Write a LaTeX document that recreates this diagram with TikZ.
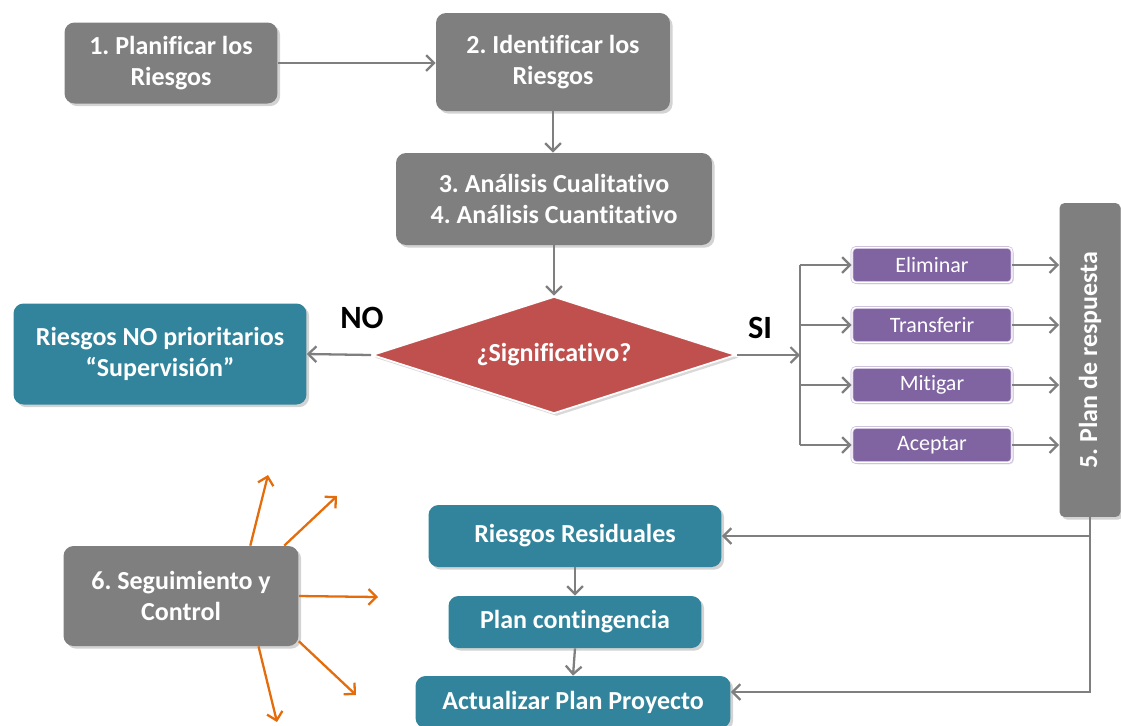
\documentclass[tikz,border=0pt]{standalone}
\usepackage{fontspec}
\usepackage{graphicx}
\setmainfont{Carlito}[Ligatures=NoCommon]
\frenchspacing
\usetikzlibrary{shapes.geometric,shadows,arrows.meta}
\definecolor{gris}{HTML}{7F7F7F}
\definecolor{verde}{HTML}{31849B}
\definecolor{morado}{HTML}{8064A2}
\definecolor{lila}{HTML}{C9BBDA}
\definecolor{rojo}{HTML}{C0504D}
\definecolor{naranja}{HTML}{E46C0A}
\tikzset{
  >={Straight Barb[length=4.5pt,width=9pt]},
  caja/.style={rounded corners=0.2cm, fill=#1, text=white, align=center,
    font=\fontsize{14.8}{17.6}\selectfont\bfseries,
    drop shadow={opacity=0.35, shadow xshift=1.5pt, shadow yshift=-1.5pt}},
  caja/.default=gris,
  opcion/.style={rounded corners=0.08cm, fill=morado, draw=lila, double=white,
    double distance=0.8pt, text=white, font=\fontsize{12.5}{14}\selectfont,
    minimum width=3.2cm, minimum height=0.7cm,
    drop shadow={opacity=0.25, shadow xshift=1pt, shadow yshift=-1pt}},
  flecha/.style={draw=gris, line width=1.3pt},
  rayo/.style={draw=naranja, line width=1.3pt, ->},
  etiqueta/.style={font=\fontsize{18.5}{20}\selectfont\bfseries},
}
\begin{document}
\begin{tikzpicture}[x=0.02cm, y=-0.02cm]
  \useasboundingbox (0,0) rectangle (1121,725);
  \node[caja, minimum width=4.26cm, minimum height=1.62cm] (N1) at (171,63) {1. Planificar los\\Riesgos};
  \node[caja, minimum width=4.68cm, minimum height=1.96cm] (N2) at (553,62) {2. Identificar los\\Riesgos};
  \node[caja, minimum width=6.32cm, minimum height=1.84cm] (N3) at (554,199) {3. Análisis Cualitativo\\4. Análisis Cuantitativo};
  \node[diamond, aspect=3.1, fill=rojo, draw=white, line width=1pt, text=white,
    minimum width=7.28cm, minimum height=2.34cm, inner sep=0pt,
    font=\fontsize{14.8}{17.6}\selectfont\bfseries,
    drop shadow={opacity=0.3, shadow xshift=1.5pt, shadow yshift=-1.5pt}] (D) at (554,355) {¿Significativo?};
  \node[caja=verde, minimum width=5.86cm, minimum height=2.02cm] (NP) at (160,354) {Riesgos NO prioritarios\\“Supervisión”};
  \node[caja, rounded corners=0.1cm, minimum width=1.22cm, minimum height=6.28cm] (N5) at (1090,360) {\rotatebox{90}{5. Plan de respuesta}};
  \foreach \i/\y/\t in {1/265/Eliminar, 2/325/Transferir, 3/385/Mitigar, 4/445/Aceptar}{
    \node[opcion] (P\i) at (932,\y) {\t};
  }
  \node[caja=verde, minimum width=5.86cm, minimum height=1.24cm] (R) at (575,536) {Riesgos Residuales};
  \node[caja=verde, minimum width=5.06cm, minimum height=1.04cm] (C) at (575,622) {Plan contingencia};
  \node[caja=verde, minimum width=6.3cm, minimum height=1.04cm] (A) at (573,702) {Actualizar Plan Proyecto};
  \node[caja, minimum width=4.7cm, minimum height=2.0cm] (N6) at (181,596) {6. Seguimiento y\\Control};
  \node[etiqueta] (NO) at (362,318) {NO};
  \node[etiqueta] (SI) at (760,328) {SI};
  \coordinate (fork) at (800,355);
  \draw[flecha, ->] (N1.east) -- (N1.east -| N2.west);
  \draw[flecha, ->] (N2.south) -- (N2.south |- N3.north);
  \draw[flecha, ->] (N3.south) -- (D.north);
  \draw[flecha, ->] (D.west) -- (NP.east);
  \draw[flecha, ->] (D.east) -- (fork);
  \draw[flecha] (fork |- P1) -- (fork |- P4);
  \foreach \i in {1,...,4}{
    \draw[flecha, ->] (fork |- P\i) -- (P\i.west);
    \draw[flecha, ->] (P\i.east) -- (P\i.east -| N5.west);
  }
  \draw[flecha, ->] (N5.south) |- ([yshift=2mm]A.east);
  \draw[flecha, ->] (N5.south |- R.east) -- (R.east);
  \draw[flecha, ->] (R.south) -- (C.north);
  \draw[flecha, ->] (C.south) -- (A.north);
  \coordinate (o1) at (268,475);
  \coordinate (o2) at (337,496);
  \coordinate (o3) at (378,597);
  \coordinate (o4) at (356,695);
  \coordinate (o5) at (277,722);
  \foreach \a/\o in {36/o1, 26/o2, 0/o3, -21/o4, -33/o5}{
    \draw[rayo] (N6.\a) -- (\o);
  }
\end{tikzpicture}
\end{document}
